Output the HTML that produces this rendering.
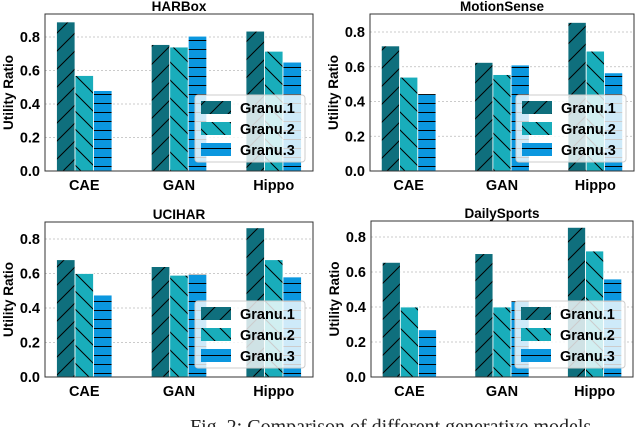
<!DOCTYPE html>
<html><head><meta charset="utf-8"><style>
html,body{margin:0;padding:0;background:#fff;width:640px;height:427px;overflow:hidden}
svg text{font-family:"Liberation Sans",sans-serif}
</style></head><body>
<svg id="chart" width="640" height="427" xmlns="http://www.w3.org/2000/svg">
<defs>
<pattern id="h1" patternUnits="userSpaceOnUse" width="18" height="18"><rect width="18" height="18" fill="#0f6f7d"/><path d="M0,18 L18,0 M-4,4 L4,-4 M14,22 L22,14" stroke="#000" stroke-width="1"/></pattern>
<pattern id="h2" patternUnits="userSpaceOnUse" width="18" height="18"><rect width="18" height="18" fill="#19adbb"/><path d="M0,0 L18,18 M-4,14 L4,22 M14,-4 L22,4" stroke="#000" stroke-width="1"/></pattern>
<pattern id="h3" patternUnits="userSpaceOnUse" width="18" height="9"><rect width="18" height="9" fill="#0b97df"/><path d="M0,4.5 L18,4.5" stroke="#000" stroke-width="1"/></pattern>
</defs>
<text x="190" y="433" font-size="20" fill="#222" style="font-family:'Liberation Serif',serif">Fig. 2: Comparison of different generative models.</text>
</svg>
<script>
const categories = ["CAE","GAN","Hippo"];
const seriesNames = ["Granu.1","Granu.2","Granu.3"];
const yTicks = [0.0,0.2,0.4,0.6,0.8];
const panelTitles = ["HARBox","MotionSense","UCIHAR","DailySports"];
const harboxValues = [[0.89,0.755,0.835],[0.57,0.74,0.715],[0.48,0.805,0.65]];
const motionsenseValues = [[0.72,0.625,0.855],[0.54,0.555,0.69],[0.445,0.61,0.565]];
const uciharValues = [[0.68,0.64,0.865],[0.60,0.59,0.68],[0.475,0.595,0.58]];
const dailysportsValues = [[0.655,0.705,0.855],[0.40,0.40,0.72],[0.27,0.435,0.56]];
const allValues = [harboxValues, motionsenseValues, uciharValues, dailysportsValues];

const layouts = [
 {x0:45,x1:313,yTop:14,yZero:171,y08:37},
 {x0:370,x1:634,yTop:14,yZero:171,y08:32},
 {x0:45,x1:313,yTop:222,yZero:377,y08:239},
 {x0:371,x1:633,yTop:221,yZero:377,y08:237}
];
const fills = ["url(#h1)","url(#h2)","url(#h3)"];
const NS = "http://www.w3.org/2000/svg";
const svg = document.getElementById("chart");
function mk(tag, attrs, parent){
  const e = document.createElementNS(NS, tag);
  for (const k in attrs) e.setAttribute(k, attrs[k]);
  (parent||svg).appendChild(e); return e;
}
layouts.forEach((L, p) => {
  const g = mk("g", {});
  
  
  const w = L.x1 - L.x0;
  const yScale = v => L.yZero - v * (L.yZero - L.y08) / 0.8;
  const groupStart = i => L.x0 + 0.043*w + i*0.3535*w;
  const bw = 0.069*w;
  yTicks.forEach(t => {
    const y = yScale(t);
    if (t > 0) {
      const gl = mk("line", {x1:L.x0,x2:L.x1,y1:y,y2:y,stroke:"#bbb","stroke-width":0.8,"stroke-dasharray":"2,2"}, g);
      
      
    }
    const tl = mk("text", {x:L.x0-5,y:y+5,"text-anchor":"end","font-size":14.5,"font-weight":"bold"}, g);
    tl.textContent = t.toFixed(1);
    
    
  });
  const vals = allValues[p];
  vals.forEach((series, s) => {
    series.forEach((v, i) => {
      const x = groupStart(i) + s*bw;
      const y = yScale(v);
      const r = mk("rect", {x:x,y:y,width:bw,height:L.yZero-y,fill:fills[s],stroke:"#fff","stroke-width":0.8}, g);
      
      
    });
  });
  categories.forEach((c, i) => {
    const t = mk("text", {x:groupStart(i)+1.5*bw,y:L.yZero+19,"text-anchor":"middle","font-size":14.5,"font-weight":"bold"}, g);
    t.textContent = c;
    
    
  });
  const fr = mk("rect", {x:L.x0,y:L.yTop,width:w,height:L.yZero-L.yTop,fill:"none",stroke:"#333","stroke-width":1}, g);
  
  
  const ti = mk("text", {x:(L.x0+L.x1)/2,y:L.yTop-3,"text-anchor":"middle","font-size":13.5,"font-weight":"bold"}, g);
  ti.textContent = panelTitles[p];
  
  
  const yl = mk("text", {x:0,y:0,"text-anchor":"middle","font-size":13.5,"font-weight":"bold",transform:`translate(${L.x0-32},${(L.yTop+L.yZero)/2}) rotate(-90)`}, g);
  yl.textContent = "Utility Ratio";
  
  
  const lx = L.x1 - 118, ly = L.yZero - 76;
  const lg = mk("g", {}, g);
  
  
  mk("rect", {x:lx,y:ly,width:110,height:67,rx:3,fill:"rgba(255,255,255,0.8)",stroke:"#ccc"}, lg);
  seriesNames.forEach((n, s) => {
    const hy = ly + 6 + s*21;
    const hr = mk("rect", {x:lx+6,y:hy,width:30,height:13,fill:fills[s]}, lg);
    
    
    const lt = mk("text", {x:lx+45,y:hy+12,"font-size":14.5,"font-weight":"bold"}, lg);
    lt.textContent = n;
    
    
  });
});
</script>
</body></html>
